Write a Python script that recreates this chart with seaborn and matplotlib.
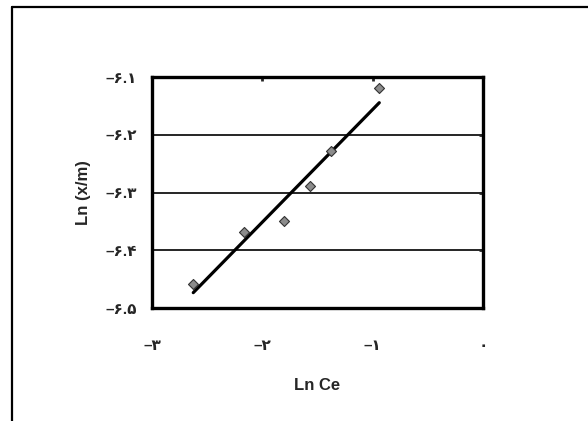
import numpy as np
import pandas as pd
import matplotlib
matplotlib.use('Agg')
import matplotlib.pyplot as plt
from matplotlib.lines import Line2D
import seaborn as sns

# data
ln_ce = [-2.626, -2.166, -1.806, -1.565, -1.378, -0.940]
ln_xm = [-6.458, -6.369, -6.349, -6.289, -6.228, -6.1185]

x_ticks = [-3, -2, -1, 0]
x_labels = ['–۳', '–۲', '–۱', '۰']
y_ticks = [-6.5, -6.4, -6.3, -6.2, -6.1]
y_labels = ['–۶.۵', '–۶.۴', '–۶.۳', '–۶.۲', '–۶.۱']

df = pd.DataFrame({'ln_ce': ln_ce, 'ln_xm': ln_xm})

sns.set_style('white')
plt.rcParams['font.family'] = ['Liberation Sans', 'DejaVu Sans']

fig = plt.figure(figsize=(5.88, 4.21), dpi=100)
ax = fig.add_axes([0.2585, 0.2684, 0.5629, 0.5487])

# outer frame (top and left edges only visible)
fig.add_artist(Line2D([12/588, 1.0], [1 - 7/421, 1 - 7/421], color='black', lw=1.6))
fig.add_artist(Line2D([12/588, 12/588], [0.0, 1 - 7/421], color='black', lw=1.6))

sns.regplot(data=df, x='ln_ce', y='ln_xm', ax=ax, scatter=False, ci=None,
            truncate=True, line_kws={'color': 'black', 'lw': 2.3})
sns.scatterplot(data=df, x='ln_ce', y='ln_xm', ax=ax, marker='D', s=26,
                color='#8c8c8c', edgecolor='#333333', linewidth=0.8, zorder=3)

ax.set_xlim(-3, 0)
ax.set_ylim(-6.5, -6.1)
ax.set_xticks(x_ticks, x_labels)
ax.set_yticks(y_ticks, y_labels)
ax.grid(axis='y', color='black', lw=1.2)
ax.grid(axis='x', visible=False)
for s in ax.spines.values():
    s.set_visible(True)
    s.set_color('black')
    s.set_linewidth(2.4)

ax.tick_params(axis='both', which='both', bottom=False, left=False, top=True, right=True,
               direction='in', length=3, width=2, labelsize=11)
ax.tick_params(axis='x', pad=22)
ax.tick_params(axis='y', pad=11)
for lab in ax.get_xticklabels() + ax.get_yticklabels():
    lab.set_fontweight('bold')

ax.set_xlabel('Ln Ce', fontsize=12, fontweight='bold', labelpad=18)
ax.set_ylabel('Ln (x/m)', fontsize=12, fontweight='bold', labelpad=10)

fig.savefig('out.png', dpi=100)
